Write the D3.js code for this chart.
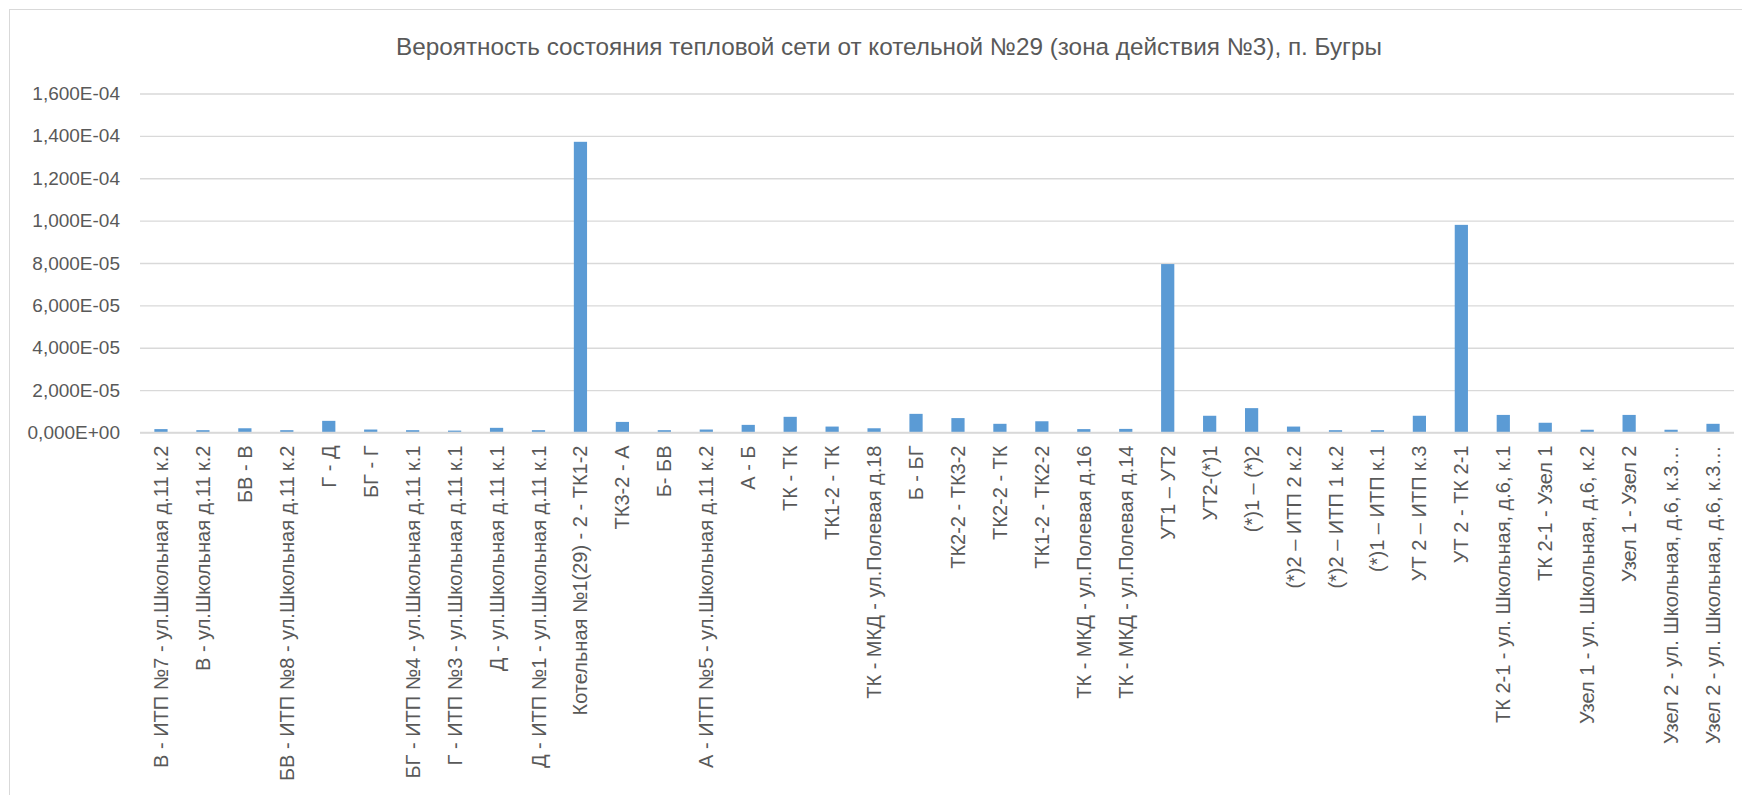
<!DOCTYPE html>
<html><head><meta charset="utf-8">
<script src="https://cdn.jsdelivr.net/npm/d3@7"></script>
<style>body{margin:0;background:#fff;} svg{display:block;} text{font-family:"Liberation Sans",Arial,sans-serif;}</style>
</head><body>
<svg id="c" width="1742" height="795"></svg>
<script>
const title = "Вероятность состояния тепловой сети от котельной №29 (зона действия №3), п. Бугры";
const categories = [
 "В - ИТП №7 - ул.Школьная д.11 к.2",
 "В - ул.Школьная д.11 к.2",
 "БВ - В",
 "БВ - ИТП №8 - ул.Школьная д.11 к.2",
 "Г - Д",
 "БГ - Г",
 "БГ - ИТП №4 - ул.Школьная д.11 к.1",
 "Г - ИТП №3 - ул.Школьная д.11 к.1",
 "Д - ул.Школьная д.11 к.1",
 "Д - ИТП №1 - ул.Школьная д.11 к.1",
 "Котельная №1(29) - 2 - ТК1-2",
 "ТК3-2 - А",
 "Б- БВ",
 "А - ИТП №5 - ул.Школьная д.11 к.2",
 "А - Б",
 "ТК - ТК",
 "ТК1-2 - ТК",
 "ТК - МКД - ул.Полевая д.18",
 "Б - БГ",
 "ТК2-2 - ТК3-2",
 "ТК2-2 - ТК",
 "ТК1-2 - ТК2-2",
 "ТК - МКД - ул.Полевая д.16",
 "ТК - МКД - ул.Полевая д.14",
 "УТ1 – УТ2",
 "УТ2-(*)1",
 "(*)1 – (*)2",
 "(*)2 – ИТП 2 к.2",
 "(*)2 – ИТП 1 к.2",
 "(*)1 – ИТП к.1",
 "УТ 2 – ИТП к.3",
 "УТ 2 - ТК 2-1",
 "ТК 2-1 - ул. Школьная, д.6, к.1",
 "ТК 2-1 - Узел 1",
 "Узел 1 - ул. Школьная, д.6, к.2",
 "Узел 1 - Узел 2",
 "Узел 2 - ул. Школьная, д.6, к.3…",
 "Узел 2 - ул. Школьная, д.6, к.3…"
];
const values = [
 1.6e-6, 1.1e-6, 2.0e-6, 1.1e-6, 5.5e-6, 1.4e-6, 1.1e-6, 0.9e-6, 2.2e-6, 1.1e-6,
 1.372e-4, 5.0e-6, 1.1e-6, 1.4e-6, 3.6e-6, 7.4e-6, 2.8e-6, 2.0e-6, 8.8e-6,
 6.8e-6, 4.1e-6, 5.3e-6, 1.6e-6, 1.7e-6, 7.95e-5, 7.9e-6, 1.15e-5, 2.8e-6, 1.1e-6,
 1.1e-6, 7.9e-6, 9.8e-5, 8.3e-6, 4.6e-6, 1.3e-6, 8.3e-6, 1.3e-6, 4.1e-6
];
const yTicks = [0, 2e-5, 4e-5, 6e-5, 8e-5, 1e-4, 1.2e-4, 1.4e-4, 1.6e-4];
const yTickLabels = ["0,000E+00","2,000E-05","4,000E-05","6,000E-05","8,000E-05","1,000E-04","1,200E-04","1,400E-04","1,600E-04"];

const svg = d3.select("#c");
const textCol = "#595959";
const mLeft = 140, mRight = 1734, mTop = 93.5, mBottom = 432.5;

svg.append("rect").attr("x",9.5).attr("y",9.5).attr("width",1760).attr("height",800)
  .attr("fill","#fff").attr("stroke","#d9d9d9").attr("stroke-width",1);

svg.append("text").attr("x",889).attr("y",55).attr("text-anchor","middle")
  .style("font-size","24.3px").attr("fill",textCol).text(title);

const x = d3.scaleBand().domain(categories.map((d,i)=>i)).range([mLeft,mRight]).paddingInner(0.685).paddingOuter(0.3425);
const y = d3.scaleLinear().domain([0,1.6e-4]).range([mBottom,mTop]);

const yAxis = d3.axisLeft(y).tickValues(yTicks).tickFormat((d,i)=>yTickLabels[i]).tickSize(-(mRight-mLeft)).tickPadding(20);
const gy = svg.append("g").attr("transform",`translate(${mLeft},0)`).call(yAxis);
gy.attr("font-family",null).attr("font-size",null);
gy.select(".domain").remove();
gy.selectAll(".tick line").attr("stroke","#d9d9d9").attr("stroke-width",1.3);
gy.selectAll(".tick text").style("font-size","19px").attr("fill",textCol);

svg.append("g").selectAll("rect").data(values).join("rect")
  .attr("x",(d,i)=>x(i)).attr("width",x.bandwidth())
  .attr("y",d=>y(d)).attr("height",d=>y(0)-y(d)).attr("fill","#5b9bd5");

svg.append("line").attr("x1",mLeft).attr("x2",mRight).attr("y1",y(0)).attr("y2",y(0))
  .attr("stroke","#d9d9d9").attr("stroke-width",1.3);

const xAxis = d3.axisBottom(x).tickFormat(i=>categories[i]).tickSize(0).tickPadding(0);
const gx = svg.append("g").attr("transform",`translate(0,${mBottom})`).call(xAxis);
gx.attr("font-family",null).attr("font-size",null);
gx.select(".domain").remove();
gx.selectAll(".tick text")
  .style("font-size","20px").attr("fill",textCol)
  .attr("text-anchor","end").attr("dy","0.35em")
  .attr("transform","translate(0,13) rotate(-90)").attr("x",0).attr("y",0);
</script>
</body></html>
